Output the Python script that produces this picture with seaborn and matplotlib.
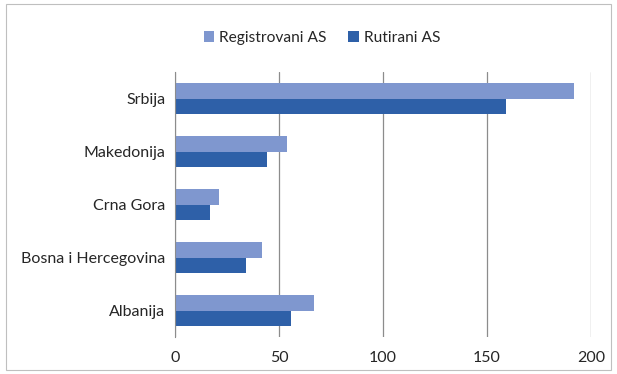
import pandas as pd
import matplotlib.pyplot as plt
import seaborn as sns
from matplotlib.patches import Rectangle

countries = ['Srbija', 'Makedonija', 'Crna Gora', 'Bosna i Hercegovina', 'Albanija']
registrovani = [192, 54, 21, 42, 67]
rutirani = [159, 44, 17, 34, 56]
series = ['Registrovani AS', 'Rutirani AS']
xticks = [0, 50, 100, 150, 200]

df = pd.DataFrame({
    'zemlja': countries * 2,
    'broj': registrovani + rutirani,
    'serija': [series[0]] * len(countries) + [series[1]] * len(countries),
})

sns.set_style('white')
plt.rcParams['font.family'] = ['Lato', 'DejaVu Sans']

fig = plt.figure(figsize=(6.17, 3.74), dpi=100)
ax = fig.add_axes([175 / 617, 1 - 337 / 374, (591 - 175) / 617, (337 - 72) / 374])

sns.barplot(data=df, y='zemlja', x='broj', hue='serija', hue_order=series,
            order=countries, orient='h', palette=['#7F97CF', '#2E60A8'],
            width=0.58, ax=ax, saturation=1, linewidth=0)

ax.set_xlim(0, 200)
ax.set_ylim(4.5, -0.5)
ax.set_xticks(xticks)
ax.set_xlabel('')
ax.set_ylabel('')
ax.grid(axis='x', color='#8c8c8c', linewidth=0.9)
ax.set_axisbelow(True)
for s in ['top', 'right', 'bottom']:
    ax.spines[s].set_visible(False)
ax.spines['left'].set_color('#8c8c8c')
ax.tick_params(axis='x', length=7, color='#8c8c8c', labelsize=11.5, pad=3)
ax.tick_params(axis='y', which='major', length=0, labelsize=11.5, pad=7)
ax.set_yticks([i - 0.5 for i in range(len(countries) + 1)], minor=True)
ax.tick_params(axis='y', which='minor', length=5, color='#8c8c8c')

handles, labels = ax.get_legend_handles_labels()
ax.get_legend().remove()
fig.legend(handles, labels, loc='center', bbox_to_anchor=(322 / 617, 1 - 38 / 374),
           ncol=2, frameon=False, fontsize=11.2, handlelength=0.7, handleheight=0.7,
           handletextpad=0.3, columnspacing=1.4)

fig.patches.append(Rectangle((6 / 617, 4 / 374), 605 / 617, 366 / 374,
                             transform=fig.transFigure, fill=False,
                             edgecolor='#bfbfbf', linewidth=0.8))

fig.savefig('out.png', dpi=100)
